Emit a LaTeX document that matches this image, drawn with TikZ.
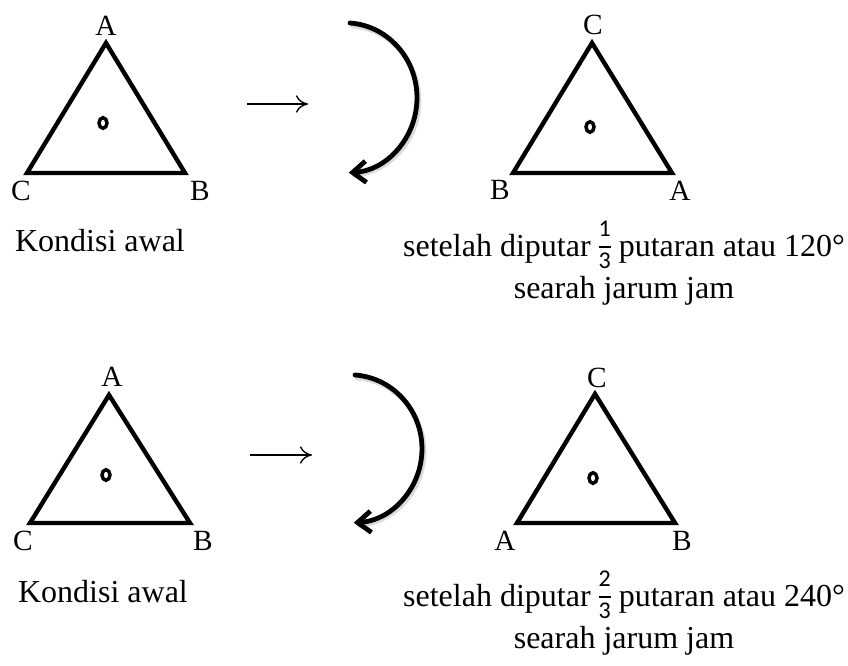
\documentclass[tikz,border=0pt]{standalone}
\usepackage{fontspec}
\setmainfont{Liberation Serif}
\newfontfamily\fracfont{Carlito}
\usetikzlibrary{arrows.meta}

\newcommand{\pecahan}[2]{$\vcenter{\hbox{\fracfont\fontsize{18}{18}\selectfont
  \setlength\arrayrulewidth{1.5pt}%
  \begin{tabular}{@{}c@{}}#1\\[2pt]\hline\rule{0pt}{15pt}#2\end{tabular}}}$}

\tikzset{
  segitiga/.style={line width=3.3pt},
  pusat/.style={line width=2.6pt},
  huruf/.style={font=\fontsize{22}{26}\selectfont, inner sep=0pt},
  teks/.style={font=\fontsize{24}{31.5}\selectfont, inner sep=0pt, align=center},
  panah/.style={line width=1pt, -{To[length=9pt,width=13pt]}},
  putar/.style={line width=3.6pt, line cap=round, -{Straight Barb[length=10pt,width=16pt]}},
  bayang/.style={line width=3.6pt, line cap=round, black!14},
}

\begin{document}
\begin{tikzpicture}[x=0.75pt,y=-0.75pt]
  \useasboundingbox (0,0) rectangle (848,666);

  % baris atas: kondisi awal
  \coordinate (t1A) at (106,43);
  \coordinate (t1B) at (185,173);
  \coordinate (t1C) at (27,173);
  \draw[segitiga] (t1A) -- (t1B) -- (t1C) -- cycle;
  \draw[pusat] (103,123) ellipse[x radius=4, y radius=5.3];
  \node[huruf] (l1A) at (106,26) {A};
  \node[huruf] (l1B) at (200,191) {B};
  \node[huruf] (l1C) at (21,191) {C};
  \node[teks,anchor=base] (awal1) at (100,252) {Kondisi awal};

  % panah lurus dan panah putar
  \coordinate (p1a) at (247,104);
  \coordinate (p1b) at (308,104);
  \draw[panah] (p1a) -- (p1b);
  \coordinate (r1a) at (350,23);
  \draw[bayang] (352,26) arc[start angle=-86, end angle=84, x radius=72, y radius=75];
  \draw[putar] (r1a) arc[start angle=-86, end angle=87, x radius=72, y radius=75];

  % baris atas: setelah diputar 120
  \coordinate (t2C) at (592,43);
  \coordinate (t2B) at (513,173);
  \coordinate (t2A) at (672,173);
  \draw[segitiga] (t2C) -- (t2A) -- (t2B) -- cycle;
  \draw[pusat] (590,127) ellipse[x radius=4, y radius=5.3];
  \node[huruf] (l2C) at (593,25) {C};
  \node[huruf] (l2B) at (500,190) {B};
  \node[huruf] (l2A) at (680,191) {A};
  \node[teks,anchor=base] (ket1) at (624,298)
    {setelah diputar \pecahan{1}{3} putaran atau 120°\\searah jarum jam};

  % baris bawah: kondisi awal
  \coordinate (t3A) at (109,395);
  \coordinate (t3B) at (190,523);
  \coordinate (t3C) at (30,523);
  \draw[segitiga] (t3A) -- (t3B) -- (t3C) -- cycle;
  \draw[pusat] (106,475) ellipse[x radius=4, y radius=5.3];
  \node[huruf] (l3A) at (112,377) {A};
  \node[huruf] (l3B) at (203,541) {B};
  \node[huruf] (l3C) at (23,541) {C};
  \node[teks,anchor=base] (awal2) at (103,602) {Kondisi awal};

  \coordinate (p2a) at (250,455);
  \coordinate (p2b) at (312,455);
  \draw[panah] (p2a) -- (p2b);
  \coordinate (r2a) at (355,375);
  \draw[bayang] (357,378) arc[start angle=-86, end angle=84, x radius=72, y radius=74];
  \draw[putar] (r2a) arc[start angle=-86, end angle=87, x radius=72, y radius=74];

  % baris bawah: setelah diputar 240
  \coordinate (t4C) at (595,394);
  \coordinate (t4A) at (517,523);
  \coordinate (t4B) at (675,523);
  \draw[segitiga] (t4C) -- (t4B) -- (t4A) -- cycle;
  \draw[pusat] (593,478) ellipse[x radius=4, y radius=5.3];
  \node[huruf] (l4C) at (597,378) {C};
  \node[huruf] (l4A) at (505,541) {A};
  \node[huruf] (l4B) at (682,541) {B};
  \node[teks,anchor=base] (ket2) at (624,648)
    {setelah diputar \pecahan{2}{3} putaran atau 240°\\searah jarum jam};
\end{tikzpicture}
\end{document}
